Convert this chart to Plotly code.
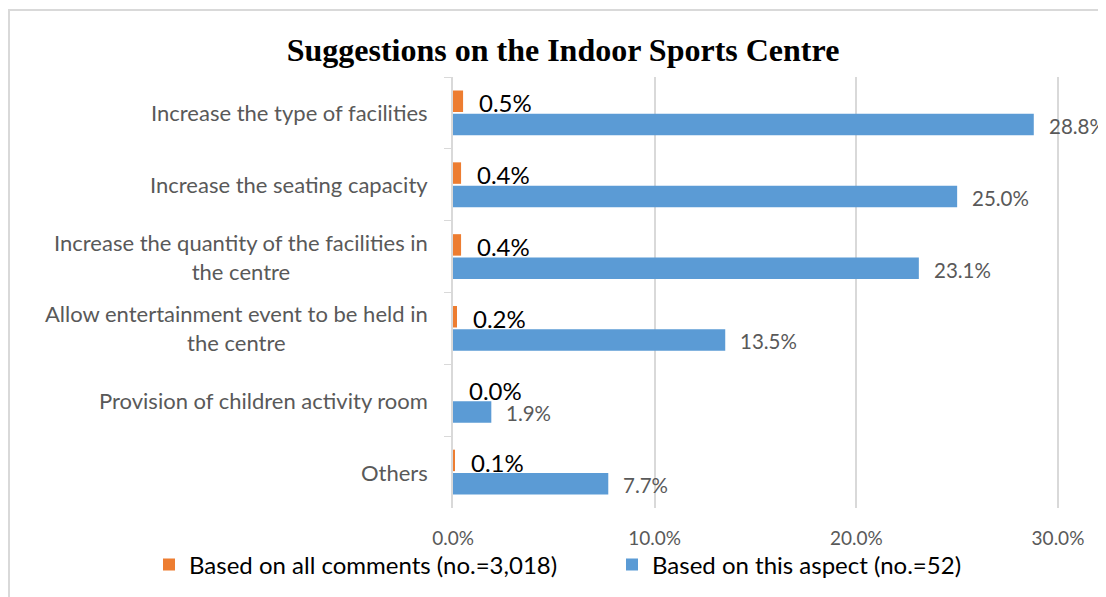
import plotly.graph_objects as go

categories = [
    "Increase the type of facilities",
    "Increase the seating capacity",
    "Increase the quantity of the facilities in<br>the centre",
    "Allow entertainment event to be held in<br>the centre",
    "Provision of children activity room",
    "Others",
]
all_comments = [0.5, 0.4, 0.4, 0.2, 0.0, 0.1]
this_aspect = [28.8, 25.0, 23.1, 13.5, 1.9, 7.7]
x_ticks = [0, 10, 20, 30]
x_tick_labels = ["0.0%", "10.0%", "20.0%", "30.0%"]

series_names = ["Based on all comments (no.=3,018)", "Based on this aspect (no.=52)"]
ORANGE = "#ED7D31"
BLUE = "#5B9BD5"
SANS = "Lato, 'Open Sans', sans-serif"
GREY = "#595959"

# page has an 8px body margin; figure is sized to fill the rest of the window
W, H = 1098, 589
L, R, T, B = 445, 46, 69, 89
PW = W - L - R
PH = H - T - B

fig = go.Figure()
fig.add_trace(go.Bar(y=categories, x=all_comments, orientation="h", name=series_names[0],
                     marker=dict(color=ORANGE, line=dict(width=0))))
fig.add_trace(go.Bar(y=categories, x=this_aspect, orientation="h", name=series_names[1],
                     marker=dict(color=BLUE, line=dict(width=0))))

annotations = []
for c, v in zip(categories, all_comments):
    annotations.append(dict(x=v, y=c, xref="x", yref="y", text=f"{v:.1f}%", showarrow=False,
                            xanchor="left", yanchor="middle", xshift=14, yshift=10,
                            font=dict(family=SANS, size=24, color="#000000")))
for c, v in zip(categories, this_aspect):
    annotations.append(dict(x=v, y=c, xref="x", yref="y", text=f"{v:.1f}%", showarrow=False,
                            xanchor="left", yanchor="middle", xshift=13, yshift=-13,
                            font=dict(family=SANS, size=20.5, color=GREY)))
for c in categories:
    annotations.append(dict(x=0, y=c, xref="x", yref="y", text=c, showarrow=False,
                            xanchor="right", yanchor="middle", align="center", xshift=-23,
                            font=dict(family=SANS, size=22, color=GREY)))

fig.update_layout(
    width=W, height=H,
    margin=dict(l=L, r=R, t=T, b=B, autoexpand=False),
    paper_bgcolor="white", plot_bgcolor="white",
    barmode="group", bargap=0.35, bargroupgap=0.08,
    title=dict(text="<b>Suggestions on the Indoor Sports Centre</b>", x=555 / W, xref="container",
               xanchor="center", y=1 - 42 / H, yref="container", yanchor="middle",
               font=dict(family="'Liberation Serif', 'Times New Roman', serif", size=32, color="#000000")),
    xaxis=dict(range=[0, 30.1], tickvals=x_ticks, ticktext=x_tick_labels,
               showgrid=True, gridcolor="#d9d9d9", gridwidth=1.5, zeroline=False,
               showline=False, ticks="outside", ticklen=13, tickcolor="rgba(0,0,0,0)",
               tickfont=dict(family=SANS, size=19, color=GREY), fixedrange=True, automargin=False),
    yaxis=dict(autorange="reversed", showticklabels=False, showline=True, linecolor="#d9d9d9",
               linewidth=1.5, ticks="outside", tickson="boundaries", ticklen=7, tickcolor="#d9d9d9",
               showgrid=False, automargin=False),
    legend=dict(orientation="h", x=(141 - L) / PW, xanchor="left", y=(T + PH - 557) / PH,
                yanchor="middle", font=dict(family=SANS, size=24, color="#000000"),
                traceorder="normal", itemwidth=30, entrywidth=418, entrywidthmode="pixels",
                bgcolor="rgba(0,0,0,0)"),
    annotations=annotations,
    shapes=[dict(type="rect", xref="paper", yref="paper",
                 x0=(1 - L) / PW, x1=(1110 - L) / PW,
                 y0=(T + PH - 600) / PH, y1=(T + PH - 2) / PH,
                 line=dict(color="#d9d9d9", width=2), fillcolor="rgba(0,0,0,0)", layer="below")],
)

fig.write_html("out.html")
